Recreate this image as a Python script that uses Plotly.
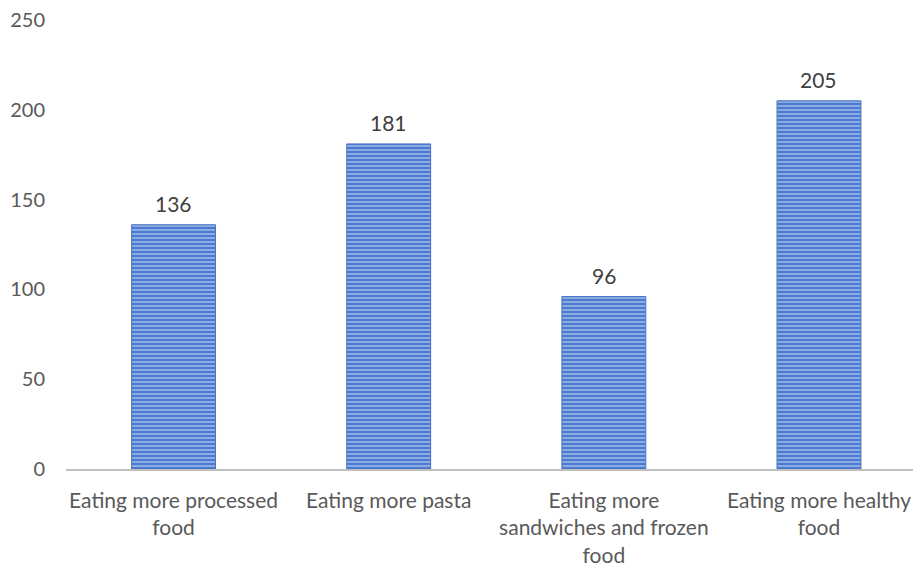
import plotly.graph_objects as go

categories = ["Eating more processed<br>food", "Eating more pasta",
              "Eating more<br>sandwiches and frozen<br>food", "Eating more healthy<br>food"]
values = [136, 181, 96, 205]
y_ticks = [0, 50, 100, 150, 200, 250]

FONT = "Lato"
fig = go.Figure()
fig.add_trace(go.Bar(
    x=categories, y=values, width=0.39,
    marker=dict(color="#4a7bd0", line=dict(color="#4a72c0", width=1),
                pattern=dict(shape="-", fgcolor="#cddbf3", size=4, solidity=0.5)),
))
for c, v in zip(categories, values):
    fig.add_annotation(x=c, y=v, text=str(v), showarrow=False, yanchor="bottom", yshift=7,
                       font=dict(family=FONT, size=21, color="#404040"))
fig.update_layout(
    width=913, height=566, margin=dict(l=66, r=0, t=20, b=97),
    plot_bgcolor="white", paper_bgcolor="white", showlegend=False,
    font=dict(family=FONT, size=21, color="#595959"),
    xaxis=dict(range=[-0.5, 3.437], showline=True, linecolor="#bfbfbf", linewidth=1.5,
               ticks="", ticklabelstandoff=12, tickfont=dict(family=FONT, size=21, color="#595959")),
    yaxis=dict(range=[0, 250], tickvals=y_ticks, showgrid=False, zeroline=False,
               showline=False, ticklabelstandoff=20, tickfont=dict(family=FONT, size=20, color="#595959")),
)
fig.write_html("out.html")
